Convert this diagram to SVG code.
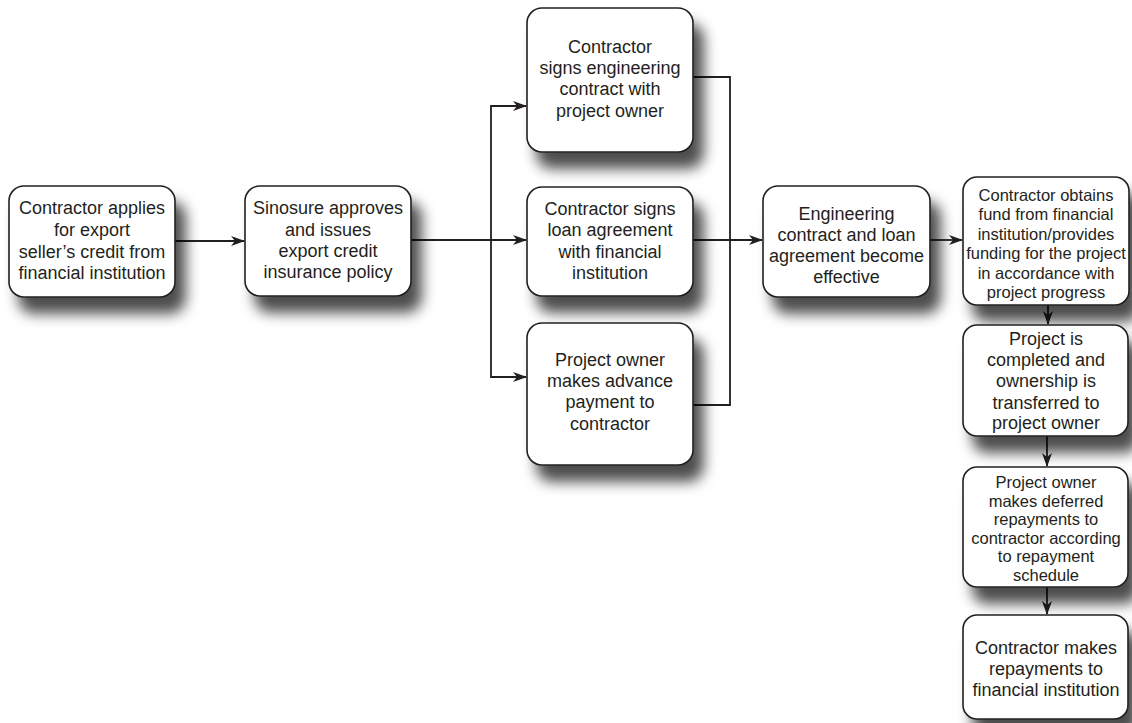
<svg xmlns="http://www.w3.org/2000/svg" width="1132" height="723" viewBox="0 0 1132 723">
<defs>
<filter id="sh" x="-20%" y="-20%" width="160%" height="180%">
<feGaussianBlur in="SourceAlpha" stdDeviation="7"/>
<feOffset dx="10" dy="16" result="b"/>
<feFlood flood-color="#000" flood-opacity="0.7"/>
<feComposite in2="b" operator="in" result="s"/>
<feMerge><feMergeNode in="s"/><feMergeNode in="SourceGraphic"/></feMerge>
</filter>
<marker id="ah" viewBox="0 0 14 10" refX="13" refY="5" markerWidth="14" markerHeight="10" markerUnits="userSpaceOnUse" orient="auto">
<path d="M0,0 L14,5 L0,10 L4,5 Z" fill="#231f20"/>
</marker>
<style>
.box{fill:#fff;stroke:#231f20;stroke-width:1.6;filter:url(#sh)}
.t{font-family:"Liberation Sans",Arial,sans-serif;font-size:18px;fill:#231f20;text-anchor:middle}
.s{font-size:16.5px}
.c{fill:none;stroke:#231f20;stroke-width:1.8}
</style>
</defs>
<g id="connectors">
<path class="c" d="M175,241 H244" marker-end="url(#ah)"/>
<path class="c" d="M411,240 H526" marker-end="url(#ah)"/>
<path class="c" d="M491,240 V106 H526" marker-end="url(#ah)"/>
<path class="c" d="M491,240 V377 H526" marker-end="url(#ah)"/>
<path class="c" d="M693,77 H730 V405 H693"/>
<path class="c" d="M693,240 H762" marker-end="url(#ah)"/>
<path class="c" d="M930,240 H962" marker-end="url(#ah)"/>
<path class="c" d="M1048,305 V324" marker-end="url(#ah)"/>
<path class="c" d="M1047,436 V466" marker-end="url(#ah)"/>
<path class="c" d="M1047,587 V614" marker-end="url(#ah)"/>
</g>
<g id="n1"><rect class="box" x="9" y="186" width="166" height="111" rx="15"/>
<text class="t"><tspan x="92" y="214">Contractor applies</tspan><tspan x="92" y="236">for export</tspan><tspan x="92" y="258">seller’s credit from</tspan><tspan x="92" y="279">financial institution</tspan></text></g>
<g id="n2"><rect class="box" x="245" y="186" width="166" height="110" rx="15"/>
<text class="t"><tspan x="328" y="214">Sinosure approves</tspan><tspan x="328" y="236">and issues</tspan><tspan x="328" y="257">export credit</tspan><tspan x="328" y="278">insurance policy</tspan></text></g>
<g id="n3"><rect class="box" x="527" y="8" width="166" height="144" rx="15"/>
<text class="t"><tspan x="610" y="53">Contractor</tspan><tspan x="610" y="74">signs engineering</tspan><tspan x="610" y="95">contract with</tspan><tspan x="610" y="117">project owner</tspan></text></g>
<g id="n4"><rect class="box" x="527" y="187" width="166" height="109" rx="15"/>
<text class="t"><tspan x="610" y="215">Contractor signs</tspan><tspan x="610" y="236">loan agreement</tspan><tspan x="610" y="258">with financial</tspan><tspan x="610" y="279">institution</tspan></text></g>
<g id="n5"><rect class="box" x="527" y="323" width="166" height="142" rx="15"/>
<text class="t"><tspan x="610" y="366">Project owner</tspan><tspan x="610" y="387">makes advance</tspan><tspan x="610" y="408">payment to</tspan><tspan x="610" y="430">contractor</tspan></text></g>
<g id="n6"><rect class="box" x="763" y="186" width="167" height="111" rx="15"/>
<text class="t"><tspan x="846.5" y="220">Engineering</tspan><tspan x="846.5" y="241">contract and loan</tspan><tspan x="846.5" y="262">agreement become</tspan><tspan x="846.5" y="283">effective</tspan></text></g>
<g id="n7"><rect class="box" x="963" y="177" width="166" height="128" rx="14"/>
<text class="t s"><tspan x="1046" y="200.5">Contractor obtains</tspan><tspan x="1046" y="220">fund from financial</tspan><tspan x="1046" y="239.5">institution/provides</tspan><tspan x="1046" y="259">funding for the project</tspan><tspan x="1046" y="278.5">in accordance with</tspan><tspan x="1046" y="298">project progress</tspan></text></g>
<g id="n8"><rect class="box" x="963" y="325" width="165" height="111" rx="14"/>
<text class="t"><tspan x="1046" y="345">Project is</tspan><tspan x="1046" y="366">completed and</tspan><tspan x="1046" y="387">ownership is</tspan><tspan x="1046" y="409">transferred to</tspan><tspan x="1046" y="429">project owner</tspan></text></g>
<g id="n9"><rect class="box" x="963" y="467" width="165" height="120" rx="14"/>
<text class="t s"><tspan x="1046" y="488">Project owner</tspan><tspan x="1046" y="506.6">makes deferred</tspan><tspan x="1046" y="525.2">repayments to</tspan><tspan x="1046" y="543.8">contractor according</tspan><tspan x="1046" y="562.4">to repayment</tspan><tspan x="1046" y="581">schedule</tspan></text></g>
<g id="n10"><rect class="box" x="963" y="615" width="165" height="104" rx="14"/>
<text class="t"><tspan x="1046" y="654">Contractor makes</tspan><tspan x="1046" y="675">repayments to</tspan><tspan x="1046" y="696">financial institution</tspan></text></g>
</svg>
